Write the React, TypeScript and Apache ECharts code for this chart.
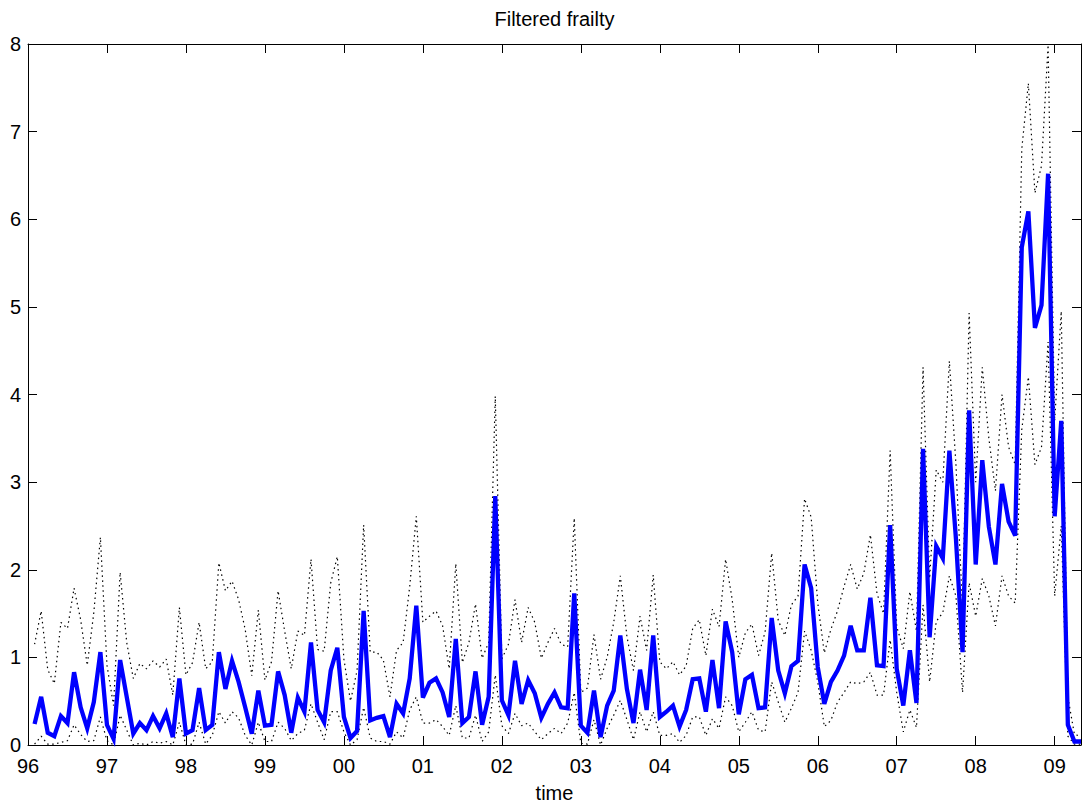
import React, { useEffect, useRef } from "react";
import * as echarts from "echarts";

const START_YEAR = 1996;
const END_MONTHS = 4; // data runs to April 2009
const tickLabels = ["96", "97", "98", "99", "00", "01", "02", "03", "04", "05", "06", "07", "08", "09"];
const yTickLabels = ["0", "1", "2", "3", "4", "5", "6", "7", "8"];

// Filtered frailty (monthly, Feb 1996 ... Apr 2009)
const frailty = [
  0.24, 0.55, 0.14, 0.10, 0.33, 0.25, 0.83, 0.43, 0.19, 0.49, 1.06, 0.23,
  0.07, 0.97, 0.55, 0.13, 0.25, 0.17, 0.33, 0.19, 0.36, 0.09, 0.76, 0.13,
  0.17, 0.65, 0.17, 0.23, 1.06, 0.64, 0.96, 0.72, 0.43, 0.13, 0.62, 0.22,
  0.23, 0.84, 0.57, 0.14, 0.54, 0.38, 1.17, 0.40, 0.26, 0.85, 1.11, 0.32,
  0.08, 0.16, 1.53, 0.28, 0.31, 0.33, 0.09, 0.47, 0.36, 0.76, 1.59, 0.54,
  0.71, 0.76, 0.60, 0.32, 1.21, 0.25, 0.32, 0.84, 0.23, 0.55, 2.84, 0.51,
  0.34, 0.96, 0.47, 0.74, 0.59, 0.31, 0.47, 0.60, 0.43, 0.42, 1.73, 0.22,
  0.14, 0.62, 0.09, 0.45, 0.62, 1.25, 0.64, 0.25, 0.86, 0.40, 1.25, 0.32,
  0.38, 0.45, 0.21, 0.40, 0.75, 0.76, 0.38, 0.97, 0.42, 1.41, 1.06, 0.35,
  0.75, 0.80, 0.42, 0.43, 1.45, 0.85, 0.59, 0.90, 0.96, 2.06, 1.79, 0.89,
  0.47, 0.72, 0.85, 1.02, 1.36, 1.08, 1.08, 1.68, 0.91, 0.90, 2.51, 0.87,
  0.45, 1.08, 0.48, 3.38, 1.23, 2.27, 2.13, 3.36, 2.35, 1.06, 3.82, 2.06,
  3.25, 2.49, 2.06, 2.98, 2.55, 2.39, 5.68, 6.09, 4.76, 5.02, 6.52, 2.61,
  3.70, 0.23, 0.04, 0.04,
];

const upperBand = [
  1.15, 1.53, 0.86, 0.70, 1.40, 1.33, 1.79, 1.43, 0.91, 1.51, 2.37, 0.91,
  0.45, 1.97, 1.17, 0.76, 0.93, 0.87, 0.96, 0.89, 0.98, 0.57, 1.57, 0.80,
  0.94, 1.40, 0.87, 0.95, 2.08, 1.76, 1.87, 1.66, 1.32, 0.79, 1.54, 0.74,
  0.95, 1.76, 1.30, 0.87, 1.30, 1.25, 2.12, 1.09, 1.07, 1.85, 2.15, 0.98,
  0.50, 0.85, 2.51, 1.06, 1.06, 0.97, 0.55, 1.08, 1.17, 1.81, 2.61, 1.40,
  1.47, 1.53, 1.36, 0.87, 2.07, 0.94, 1.17, 1.61, 0.99, 1.17, 3.98, 0.98,
  1.15, 1.66, 1.17, 1.57, 1.40, 0.99, 1.17, 1.33, 1.15, 1.12, 2.59, 0.60,
  0.65, 1.26, 0.75, 1.00, 1.40, 1.93, 1.24, 0.85, 1.47, 1.08, 1.94, 0.95,
  0.87, 0.95, 0.80, 0.90, 1.33, 1.43, 1.02, 1.55, 1.35, 2.12, 1.66, 1.00,
  1.28, 1.38, 1.02, 1.29, 2.19, 1.42, 1.25, 1.60, 1.70, 2.81, 2.60, 1.62,
  1.05, 1.32, 1.53, 1.81, 2.06, 1.78, 1.96, 2.40, 1.73, 1.50, 3.36, 1.35,
  1.10, 1.75, 1.30, 4.31, 1.90, 3.14, 3.00, 4.38, 3.20, 1.55, 4.93, 3.00,
  4.31, 3.50, 2.90, 4.00, 3.40, 3.20, 6.80, 7.55, 6.30, 6.61, 7.99, 3.70,
  4.95, 0.55, 0.12, 0.10,
];

const lowerBand = [
  0.01, 0.10, 0.01, 0.01, 0.03, 0.05, 0.23, 0.12, 0.04, 0.05, 0.32, 0.05,
  0.00, 0.34, 0.17, 0.00, 0.02, 0.00, 0.04, 0.02, 0.04, 0.00, 0.26, 0.00,
  0.01, 0.26, 0.01, 0.11, 0.38, 0.25, 0.38, 0.31, 0.11, 0.00, 0.26, 0.04,
  0.04, 0.26, 0.19, 0.05, 0.13, 0.17, 0.47, 0.26, 0.06, 0.38, 0.38, 0.15,
  0.00, 0.06, 0.43, 0.08, 0.04, 0.04, 0.01, 0.15, 0.08, 0.40, 0.55, 0.25,
  0.25, 0.29, 0.21, 0.11, 0.45, 0.08, 0.08, 0.34, 0.04, 0.15, 0.80, 0.22,
  0.13, 0.36, 0.22, 0.25, 0.15, 0.06, 0.13, 0.19, 0.13, 0.25, 0.60, 0.02,
  0.01, 0.29, 0.00, 0.19, 0.34, 0.51, 0.29, 0.06, 0.38, 0.15, 0.38, 0.11,
  0.11, 0.13, 0.03, 0.11, 0.32, 0.32, 0.11, 0.30, 0.19, 0.55, 0.45, 0.15,
  0.26, 0.38, 0.17, 0.15, 0.72, 0.49, 0.26, 0.42, 0.60, 1.30, 1.08, 0.72,
  0.21, 0.28, 0.49, 0.60, 0.72, 0.70, 0.72, 0.83, 0.57, 0.57, 1.20, 0.60,
  0.15, 0.40, 0.20, 1.60, 0.72, 1.41, 1.51, 1.93, 1.70, 0.60, 1.85, 1.47,
  1.90, 1.70, 1.36, 1.93, 1.70, 1.62, 3.60, 4.20, 3.20, 3.40, 4.60, 1.70,
  2.50, 0.10, 0.01, 0.01,
];

const FONT = '"Liberation Sans", Arial, Helvetica, sans-serif';

function toSeries(values: number[]) {
  return values.map((v, i) => [START_YEAR + (i + 1) / 12, v]);
}

export default function App() {
  const ref = useRef<HTMLDivElement>(null);

  useEffect(() => {
    if (!ref.current) return;
    const chart = echarts.init(ref.current, undefined, { renderer: "svg" });
    const xMin = START_YEAR;
    const xMax = START_YEAR + tickLabels.length - 1 + END_MONTHS / 12;

    const xFormatter = (v: number) => {
      if (Math.abs(v - Math.round(v)) > 1e-6) return "";
      return tickLabels[Math.round(v - START_YEAR)] ?? "";
    };
    const yFormatter = (v: number) => {
      if (Math.abs(v - Math.round(v)) > 1e-6) return "";
      return yTickLabels[Math.round(v)] ?? "";
    };

    const axisLine = { show: true, onZero: false, lineStyle: { color: "#000", width: 1 } };
    const axisTick = { show: true, inside: true, length: 9, lineStyle: { color: "#000", width: 1 } };
    const dotted = { color: "#000", width: 1.2, type: [1.5, 3.5] };

    const option: any = {
      animation: false,
      backgroundColor: "#fff",
      graphic: [
        {
          type: "text",
          x: 554.5,
          y: 9,
          style: {
            text: "Filtered frailty",
            fill: "#000",
            font: `20px ${FONT}`,
            textAlign: "center",
            textVerticalAlign: "top",
          },
        },
      ],
      grid: { left: 28, right: 1, top: 44, bottom: 58, containLabel: false },
      xAxis: [
        {
          type: "value",
          position: "bottom",
          min: xMin,
          max: xMax,
          interval: 1,
          axisLine,
          axisTick,
          splitLine: { show: false },
          axisLabel: {
            formatter: xFormatter,
            color: "#000",
            fontSize: 20,
            fontFamily: FONT,
            margin: 11,
            showMinLabel: true,
            showMaxLabel: false,
          },
          name: "time",
          nameLocation: "middle",
          nameGap: 38,
          nameTextStyle: { color: "#000", fontSize: 20, fontFamily: FONT },
        },
        {
          type: "value",
          position: "top",
          min: xMin,
          max: xMax,
          interval: 1,
          axisLine,
          axisTick,
          splitLine: { show: false },
          axisLabel: { show: false },
        },
      ],
      yAxis: [
        {
          type: "value",
          position: "left",
          min: 0,
          max: 8,
          interval: 1,
          axisLine,
          axisTick,
          splitLine: { show: false },
          axisLabel: {
            formatter: yFormatter,
            color: "#000",
            fontSize: 20,
            fontFamily: FONT,
            margin: 7,
          },
        },
        {
          type: "value",
          position: "right",
          min: 0,
          max: 8,
          interval: 1,
          axisLine,
          axisTick,
          splitLine: { show: false },
          axisLabel: { show: false },
        },
      ],
      series: [
        {
          name: "upper",
          type: "line",
          xAxisIndex: 0,
          yAxisIndex: 0,
          data: toSeries(upperBand),
          symbol: "none",
          lineStyle: dotted,
          z: 2,
        },
        {
          name: "lower",
          type: "line",
          xAxisIndex: 0,
          yAxisIndex: 0,
          data: toSeries(lowerBand),
          symbol: "none",
          lineStyle: dotted,
          z: 2,
        },
        {
          name: "frailty",
          type: "line",
          xAxisIndex: 0,
          yAxisIndex: 0,
          data: toSeries(frailty),
          symbol: "none",
          lineStyle: { color: "#0000ff", width: 4.3, join: "miter" },
          z: 3,
        },
      ],
    };
    chart.setOption(option);
    return () => chart.dispose();
  }, []);

  return (
    <div
      ref={ref}
      style={{ position: "fixed", left: 0, top: 0, width: 1082, height: 808, background: "#fff" }}
    />
  );
}
